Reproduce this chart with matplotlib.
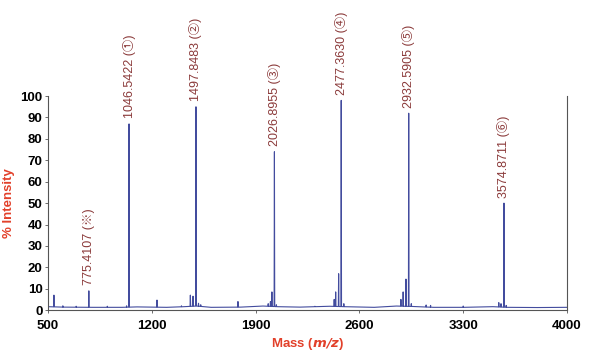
import numpy as np
import matplotlib
matplotlib.use('Agg')
import matplotlib.pyplot as plt

# labelled peaks
main_mass = [775.4107, 1046.5422, 1497.8483, 2026.8955, 2477.3630, 2932.5905, 3574.8711]
main_int = [9.0, 87.0, 95.0, 74.0, 98.0, 92.0, 50.0]
main_tag = ['※', '①', '②', '③', '④', '⑤', '⑥']

# small unlabelled peaks
minor_mass = [540, 600, 690, 900, 1030, 1235, 1400, 1460, 1478, 1515, 1530, 1781,
              1985, 2000, 2010, 2040, 2300, 2430, 2440, 2460, 2495, 2880, 2895,
              2914, 2950, 3050, 3080, 3300, 3540, 3555, 3590]
minor_int = [7.0, 2.0, 1.8, 1.8, 2.0, 4.7, 2.0, 7.0, 6.5, 3.2, 2.5, 4.0,
             3.0, 4.0, 8.5, 2.5, 1.8, 5.0, 8.5, 17.0, 3.0, 5.0, 8.5,
             14.5, 3.0, 2.4, 2.2, 1.9, 3.5, 3.0, 2.2]

# baseline level
base_mass = [500, 600, 800, 1000, 1100, 1300, 1420, 1500, 1600, 1800, 1950, 2050,
             2200, 2400, 2500, 2700, 2850, 2960, 3100, 3300, 3500, 3600, 3800, 4000]
base_int = [1.6, 1.4, 1.3, 1.3, 1.5, 1.3, 1.6, 1.9, 1.3, 1.4, 1.9, 1.6,
            1.4, 1.8, 1.6, 1.3, 1.9, 1.7, 1.3, 1.3, 1.6, 1.3, 1.2, 1.3]

xticks = [500, 1200, 1900, 2600, 3300, 4000]
yticks = list(range(0, 101, 10))

line_col = '#434c9e'
lab_col = '#8b3a3a'
axis_red = '#e2402a'

# build a stick spectrum on top of the baseline
all_m = np.array(main_mass + minor_mass)
all_h = np.array(main_int + minor_int)
order = np.argsort(all_m)
all_m, all_h = all_m[order], all_h[order]
xs, ys = [], []
for m, h in zip(all_m, all_h):
    b = np.interp(m, base_mass, base_int)
    xs += [m - 2, m, m + 2]
    ys += [b, h, b]
px = np.array(list(base_mass) + xs)
py = np.array(list(base_int) + ys)
o = np.argsort(px, kind='stable')
px, py = px[o], py[o]

plt.rcParams['font.family'] = ['Liberation Sans', 'Noto Sans CJK JP', 'DejaVu Sans']
fig = plt.figure(figsize=(6, 3.52), dpi=100)
ax = fig.add_axes([0.08, 0.119, 0.865, 0.608])
ax.plot(px, py, color=line_col, lw=0.8)

for m, h, t in zip(main_mass, main_int, main_tag):
    ax.annotate('%.4f (%s)' % (m, t), xy=(m, h), xytext=(0, 4),
                textcoords='offset points', rotation=90, ha='center', va='bottom',
                color=lab_col, fontsize=9, annotation_clip=False)

ax.set_xlim(500, 4000)
ax.set_ylim(0, 100)
ax.set_xticks(xticks)
ax.set_yticks(yticks)
ax.tick_params(axis='both', labelsize=9.5, length=2, width=0.6, colors='#555555',
               labelcolor='black', pad=2)
ax.tick_params(axis='x', pad=5)
for lab in ax.get_xticklabels() + ax.get_yticklabels():
    lab.set_fontweight('bold')
ax.spines['top'].set_visible(False)
for s in ['left', 'bottom', 'right']:
    ax.spines[s].set_color('#555555')
    ax.spines[s].set_linewidth(0.8)

ax.set_xlabel('Mass ($\\mathbfit{m/z}$)', color=axis_red, fontsize=9.5, fontweight='bold', labelpad=3)
ax.set_ylabel('% Intensity', color=axis_red, fontsize=9.5, fontweight='bold', labelpad=4)

fig.savefig('out.png', dpi=100)
